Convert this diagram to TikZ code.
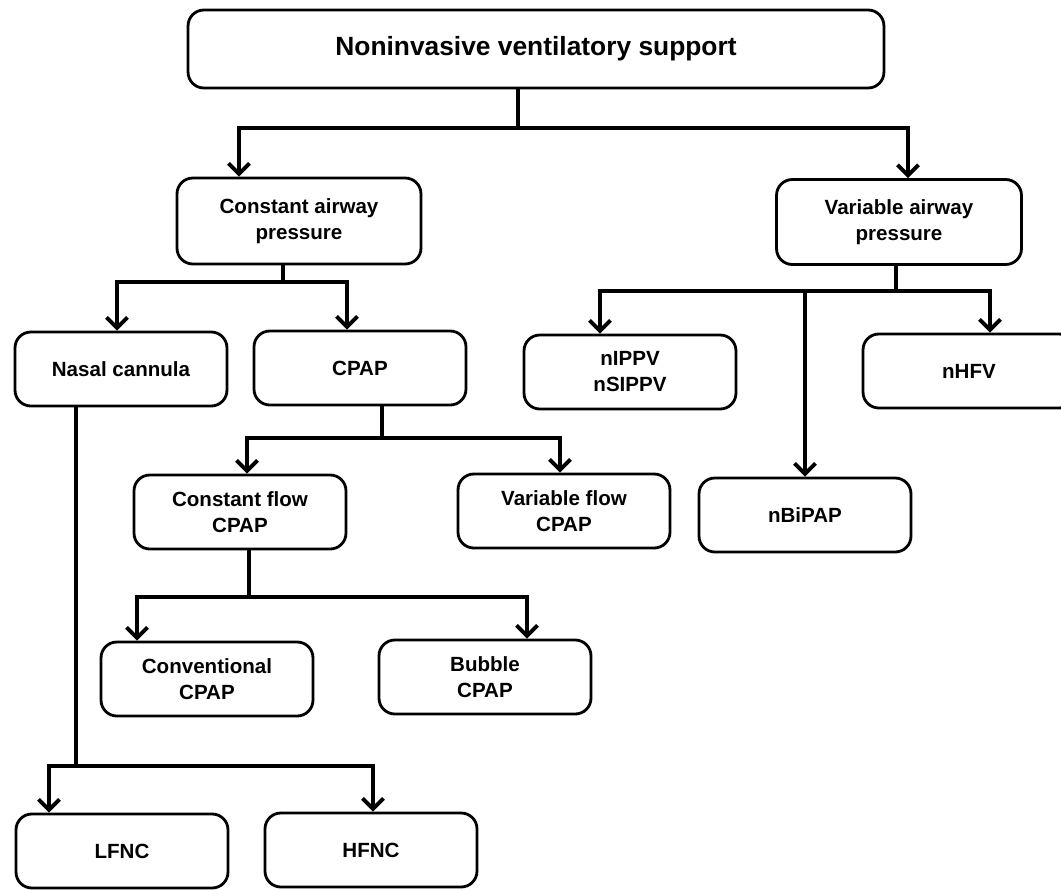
\documentclass[tikz,border=0pt]{standalone}
\usepackage{fontspec}
\setmainfont{Liberation Sans}
\usepackage{tikz}
\usetikzlibrary{arrows.meta}

\begin{document}
\begin{tikzpicture}[x=0.02cm, y=-0.02cm,
	box/.style={shape=rectangle, draw=black, line width=1.6pt, rounded corners=9pt,
		minimum width=4.24cm, minimum height=1.48cm, align=center,
		font=\fontsize{11.7}{14.8}\selectfont\bfseries, inner sep=2pt},
	wire/.style={line width=2.2pt},
	arr/.style={line width=2.2pt, -{Straight Barb[length=6pt, width=12pt]}}]
	
	\clip (0,0) rectangle (1061,889);
	
	\node[box, minimum width=13.92cm, minimum height=1.56cm, font=\fontsize{15}{18}\selectfont\bfseries] (top) at (536, 49) {Noninvasive ventilatory support};
	
	\node[box, minimum width=4.88cm, minimum height=1.72cm] (cap) at (299, 221)   {Constant airway\\pressure};
	\node[box, minimum width=4.9cm, minimum height=1.7cm]   (vap) at (899, 222)   {Variable airway\\pressure};
	
	\node[box] (nasal) at (121, 369)   {Nasal cannula};
	\node[box] (cpap) at (360, 368)    {CPAP};
	\node[box] (nipp) at (630, 372)    {nIPPV\\nSIPPV};
	\node[box] (nhfv) at (969, 371)    {nHFV};
	
	\node[box] (cflow) at (240, 512)   {Constant flow\\CPAP};
	\node[box] (vflow) at (564, 511)   {Variable flow\\CPAP};
	\node[box] (nbip) at (805, 515)    {nBiPAP};
	
	\node[box] (conv) at (207, 679)    {Conventional\\CPAP};
	\node[box] (bub) at (485, 677)     {Bubble\\CPAP};
	
	\node[box] (lfnc) at (122, 851)    {LFNC};
	\node[box] (hfnc) at (371, 850)    {HFNC};
	
	\coordinate (j1) at (518, 128);
	\coordinate (j2) at (896, 291);
	\coordinate (j3) at (283, 282);
	\coordinate (j4) at (382, 438);
	\coordinate (j5) at (249, 597);
	\coordinate (j6) at (76, 766);
	
	\draw[wire] (top.south -| j1) -- (j1);
	\draw[arr] (j1) -| ([xshift=-1.2cm]cap.north);
	\draw[arr] (j1) -| ([xshift=0.18cm]vap.north);
	
	\draw[wire] (vap.south -| j2) -- (j2);
	\draw[arr] (j2) -| ([xshift=-0.6cm]nipp.north);
	\draw[arr] (j2) -| ([xshift=0.42cm]nhfv.north);
	\draw[arr] (j2) -| (nbip.north);
	
	\draw[wire] (cap.south -| j3) -- (j3);
	\draw[arr] (j3) -| ([xshift=-0.08cm]nasal.north);
	\draw[arr] (j3) -| ([xshift=-0.26cm]cpap.north);
	
	\draw[wire] (cpap.south -| j4) -- (j4);
	\draw[arr] (j4) -| ([xshift=0.14cm]cflow.north);
	\draw[arr] (j4) -| ([xshift=-0.08cm]vflow.north);
	
	\draw[wire] (cflow.south -| j5) -- (j5);
	\draw[arr] (j5) -| ([xshift=-1.4cm]conv.north);
	\draw[arr] (j5) -| ([xshift=0.84cm]bub.north);
	
	\draw[wire] (nasal.south -| j6) -- (j6);
	\draw[arr] (j6) -| ([xshift=-1.46cm]lfnc.north);
	\draw[arr] (j6) -| ([xshift=0.04cm]hfnc.north);
	
\end{tikzpicture}
\end{document}
